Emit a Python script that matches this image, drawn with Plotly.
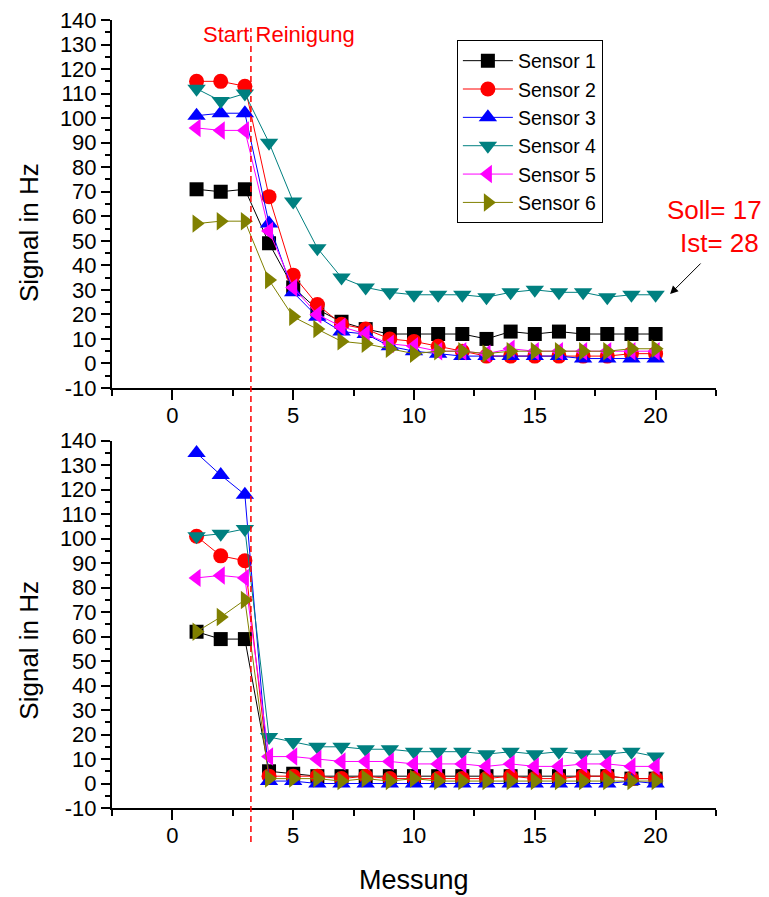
import plotly.graph_objects as go

messung = list(range(1, 21))

# Upper panel (Signal in Hz)
top_s1 = [71, 70, 71, 49, 31, 22, 17, 14, 12, 12, 12, 12, 10, 13, 12, 13, 12, 12, 12, 12]
top_s2 = [115, 115, 113, 68, 36, 24, 16, 14, 10, 9, 7, 5, 3, 3, 3, 3, 3, 3, 4, 4]
top_s3 = [101, 102, 102, 57, 29, 19, 13, 12, 7, 5, 4, 3, 3, 3, 3, 3, 2, 2, 2, 2]
top_s4 = [112, 107, 110, 90, 66, 47, 35, 31, 29, 28, 28, 28, 27, 29, 30, 29, 29, 27, 28, 28]
top_s5 = [96, 95, 95, 54, 31, 20, 15, 12, 8, 7, 5, 5, 4, 6, 5, 5, 5, 5, 5, 5]
top_s6 = [57, 58, 58, 34, 19, 14, 9, 8, 6, 4, 5, 5, 4, 5, 5, 5, 5, 5, 6, 6]

# Lower panel (Signal in Hz)
bot_s1 = [62, 59, 59, 5, 4, 3, 3, 3, 3, 3, 3, 3, 3, 3, 3, 3, 3, 3, 2, 2]
bot_s2 = [101, 93, 91, 3, 3, 3, 2, 3, 2, 2, 2, 2, 2, 3, 2, 2, 3, 3, 2, 2]
bot_s3 = [135, 126, 118, 1, 1, 0, 0, 0, 0, 0, 0, 0, 0, 0, 0, 0, 0, 0, 1, 0]
bot_s4 = [101, 102, 104, 19, 17, 15, 15, 14, 14, 13, 13, 13, 12, 13, 12, 13, 12, 12, 13, 11]
bot_s5 = [84, 85, 84, 11, 11, 10, 9, 9, 9, 8, 8, 8, 7, 8, 7, 7, 8, 8, 7, 7]
bot_s6 = [62, 68, 75, 2, 2, 2, 1, 2, 1, 2, 1, 1, 1, 1, 1, 1, 1, 1, 1, 1]

names = ["Sensor 1", "Sensor 2", "Sensor 3", "Sensor 4", "Sensor 5", "Sensor 6"]
colors = ["#000000", "#FF0000", "#0000FF", "#008080", "#FF00FF", "#808000"]
symbols = ["square", "circle", "triangle-up", "triangle-down", "triangle-left", "triangle-right"]
sizes = [14, 15, 16, 16, 16, 16]

y_tickvals = [-10, 0, 10, 20, 30, 40, 50, 60, 70, 80, 90, 100, 110, 120, 130, 140]
y_ticktext = ["-10", "0", "10", "20", "30", "40", "50", "60", "70", "80", "90",
              "100", "110", "120", "130", "140"]
x_tickvals = [0, 5, 10, 15, 20]
x_ticktext = ["0", "5", "10", "15", "20"]

start_x = 3.25
soll_ist_point = (20.6, 28.3)

FONT = "Liberation Sans, Arial, Helvetica, sans-serif"

fig = go.Figure()
top = [top_s1, top_s2, top_s3, top_s4, top_s5, top_s6]
bot = [bot_s1, bot_s2, bot_s3, bot_s4, bot_s5, bot_s6]
for i in range(6):
    fig.add_trace(go.Scatter(
        x=messung, y=top[i], name=names[i], mode="lines+markers",
        line=dict(color=colors[i], width=1),
        marker=dict(symbol=symbols[i], size=sizes[i], color=colors[i], line=dict(width=0)),
        xaxis="x", yaxis="y", showlegend=True))
for i in range(6):
    fig.add_trace(go.Scatter(
        x=messung, y=bot[i], name=names[i], mode="lines+markers",
        line=dict(color=colors[i], width=1),
        marker=dict(symbol=symbols[i], size=sizes[i], color=colors[i], line=dict(width=0)),
        xaxis="x2", yaxis="y2", showlegend=False))

xax = dict(range=[-2.5, 22.5], tickmode="array", tickvals=x_tickvals, ticktext=x_ticktext,
           ticks="outside", ticklen=10, tickwidth=2, automargin=False,
           ticklabeloverflow="allow",
           tickcolor="black", showline=True, linecolor="black", linewidth=2, showgrid=False,
           zeroline=False, tickfont=dict(family=FONT, size=22, color="black"),
           ticklabelstandoff=-3,
           minor=dict(dtick=2.5, tick0=0, ticks="outside", ticklen=6, tickwidth=2, tickcolor="black"))
yax = dict(range=[-10, 140], tickmode="array", tickvals=y_tickvals, ticktext=y_ticktext,
           ticks="outside", ticklen=9, tickwidth=2, automargin=False,
           ticklabeloverflow="allow",
           tickcolor="black", showline=True, linecolor="black", linewidth=2, showgrid=False,
           zeroline=False, tickfont=dict(family=FONT, size=22, color="black"),
           minor=dict(dtick=5, tick0=0, ticks="outside", ticklen=5, tickwidth=2, tickcolor="black"))

fig.update_layout(
    width=761, height=889,
    margin=dict(l=104, r=53, t=12, b=89, autoexpand=False),
    paper_bgcolor="white", plot_bgcolor="white",
    font=dict(family=FONT, color="black"),
    xaxis=dict(xax, domain=[0, 1], anchor="y"),
    yaxis=dict(yax, domain=[0.533, 1.0], anchor="x"),
    xaxis2=dict(xax, domain=[0, 1], anchor="y2"),
    yaxis2=dict(yax, domain=[0.0, 0.466], anchor="x2"),
    legend=dict(x=0.571, y=0.974, xanchor="left", yanchor="top",
                bordercolor="black", borderwidth=1, bgcolor="white",
                font=dict(family=FONT, size=19.5, color="black"),
                itemwidth=50, tracegroupgap=0),
    shapes=[dict(type="line", xref="x", yref="paper", x0=start_x, x1=start_x,
                 y0=-0.043, y1=0.99, line=dict(color="red", width=1.5, dash="6px,4px"))],
    annotations=[
        dict(text="Start Reinigung", xref="x", yref="paper", x=4.43, y=0.981,
             showarrow=False, font=dict(family=FONT, size=22, color="red"),
             xanchor="center", yanchor="middle"),
        dict(text="Soll= 17", xref="paper", yref="paper", x=1.079, y=0.759,
             showarrow=False, font=dict(family=FONT, size=26, color="red"),
             xanchor="right", yanchor="middle"),
        dict(text="Ist= 28", xref="paper", yref="paper", x=1.074, y=0.717,
             showarrow=False, font=dict(family=FONT, size=26, color="red"),
             xanchor="right", yanchor="middle"),
        dict(text="", xref="x", yref="y", x=soll_ist_point[0], y=soll_ist_point[1],
             ax=32, ay=-32, showarrow=True, arrowhead=2, arrowsize=1.6,
             arrowwidth=1, arrowcolor="black"),
        dict(text="Signal in Hz", xref="paper", yref="paper", x=-0.137, y=0.73,
             showarrow=False, textangle=-90, font=dict(family=FONT, size=26, color="black"),
             xanchor="center", yanchor="middle"),
        dict(text="Signal in Hz", xref="paper", yref="paper", x=-0.137, y=0.2,
             showarrow=False, textangle=-90, font=dict(family=FONT, size=26, color="black"),
             xanchor="center", yanchor="middle"),
        dict(text="Messung", xref="paper", yref="paper", x=0.5, y=-0.092,
             showarrow=False, font=dict(family=FONT, size=27, color="black"),
             xanchor="center", yanchor="middle"),
    ],
)

fig.write_html("out.html")
